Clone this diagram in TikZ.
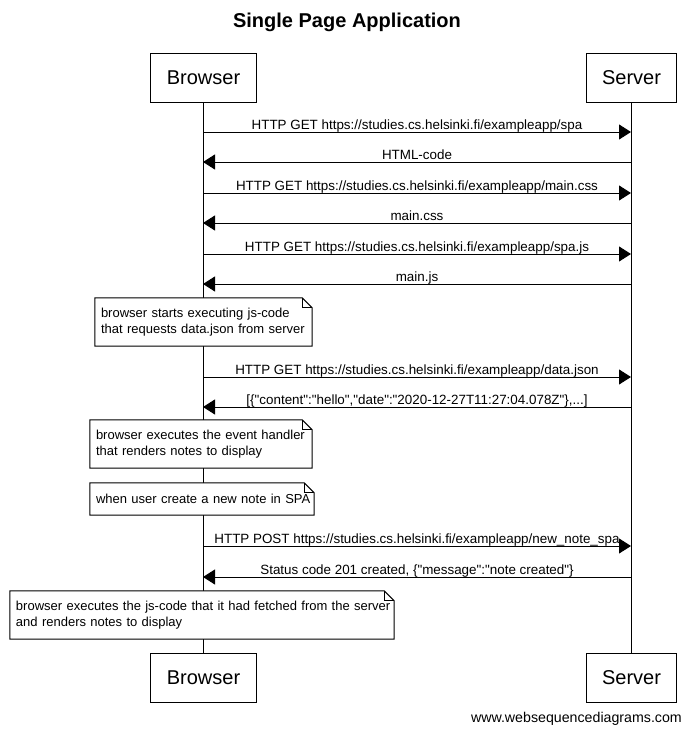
\documentclass[tikz,border=0pt]{standalone}
\usepackage{fontspec}
\setmainfont{Liberation Sans}[Ligatures=TeXOff]
\usetikzlibrary{arrows.meta,backgrounds}
\hfuzz=50pt
\newcommand\drawnote[1]{%
  \begin{scope}[on background layer]
  \draw[line width=1pt, fill=white] (#1.north west) -- ([xshift=-10pt]#1.north east) -- ([yshift=-10pt]#1.north east) -- (#1.south east) -- (#1.south west) -- cycle;
  \draw[line width=0.8pt] ([xshift=-10pt]#1.north east) -- ([xshift=-10pt,yshift=-10pt]#1.north east) -- ([yshift=-10pt]#1.north east);
  \end{scope}
}
\begin{document}
\begin{tikzpicture}[x=1pt,y=-1pt,
  actor/.style={draw, line width=1pt, fill=white, minimum height=49pt, inner xsep=16pt, inner ysep=0pt, font=\fontsize{20}{24}\selectfont},
  msg/.style={line width=1pt, -{Triangle[length=12pt,width=15pt]}},
  lbl/.style={font=\fontsize{13.4}{15}\selectfont, inner sep=0pt, anchor=base},
  notetxt/.style={font=\fontsize{13}{16}\selectfont, align=left, inner xsep=6pt, inner ysep=0pt},
  life/.style={line width=1pt}]
\useasboundingbox (0,0) rectangle (690,736);
\node[font=\bfseries\fontsize{20}{24}\selectfont] (title) at (347,22) {Single Page Application};
% actors
\node[actor] (bt) at (203.5,77.5) {Browser};
\node[actor] (st) at (631.5,77.5) {Server};
\node[actor] (bb) at (203.5,677.5) {Browser};
\node[actor] (sb) at (631.5,677.5) {Server};
\coordinate (bl1) at (203,102); \coordinate (bl2) at (203,653);
\coordinate (sl1) at (631,102); \coordinate (sl2) at (631,653);
\begin{scope}[on background layer]
\draw[life] (bl1) -- (bl2);
\draw[life] (sl1) -- (sl2);
\end{scope}
% lifeline points
\foreach \i/\y in {1/132,2/162,3/193,4/223,5/254,6/284,7/377,8/407,9/546,10/577}{
  \coordinate (b\i) at (203,\y);
  \coordinate (s\i) at (631,\y);
}
\draw[msg] (b1) -- (s1) node[lbl, pos=0.5, yshift=3pt] (m1) {HTTP GET https://studies.cs.helsinki.fi/exampleapp/spa};
\draw[msg] (s2) -- (b2) node[lbl, pos=0.5, yshift=3pt] (m2) {HTML-code};
\draw[msg] (b3) -- (s3) node[lbl, pos=0.5, yshift=3pt] (m3) {HTTP GET https://studies.cs.helsinki.fi/exampleapp/main.css};
\draw[msg] (s4) -- (b4) node[lbl, pos=0.5, yshift=3pt] (m4) {main.css};
\draw[msg] (b5) -- (s5) node[lbl, pos=0.5, yshift=3pt] (m5) {HTTP GET https://studies.cs.helsinki.fi/exampleapp/spa.js};
\draw[msg] (s6) -- (b6) node[lbl, pos=0.5, yshift=3pt] (m6) {main.js};
\draw[msg] (b7) -- (s7) node[lbl, pos=0.5, yshift=3pt] (m7) {HTTP GET https://studies.cs.helsinki.fi/exampleapp/data.json};
\draw[msg] (s8) -- (b8) node[lbl, pos=0.5, yshift=3pt] (m8) {[\{"content":"hello","date":"2020-12-27T11:27:04.078Z"\},...]};
\draw[msg] (b9) -- (s9) node[lbl, pos=0.5, yshift=3pt] (m9) {HTTP POST https://studies.cs.helsinki.fi/exampleapp/new\_note\_spa};
\draw[msg] (s10) -- (b10) node[lbl, pos=0.5, yshift=3pt] (m10) {Status code 201 created, \{"message":"note created"\}};
% notes
\node[notetxt, text width=205pt, minimum height=48pt] (n1) at (203.5,322) {\mbox{browser starts executing js-code}\\\mbox{that requests data.json from server}};
\drawnote{n1}
\node[notetxt, text width=210pt, minimum height=48pt] (n2) at (201,444) {\mbox{browser executes the event handler}\\\mbox{that renders notes to display}};
\drawnote{n2}
\node[notetxt, text width=212pt, minimum height=32pt] (n3) at (202,499) {\mbox{when user create a new note in SPA}};
\drawnote{n3}
\node[notetxt, text width=372pt, minimum height=48pt] (n4) at (202,615) {\mbox{browser executes the js-code that it had fetched from the server}\\\mbox{and renders notes to display}};
\drawnote{n4}
\node[font=\fontsize{14.2}{16}\selectfont, anchor=east, inner sep=0pt] (footer) at (682,719) {www.websequencediagrams.com};
\end{tikzpicture}
\end{document}
